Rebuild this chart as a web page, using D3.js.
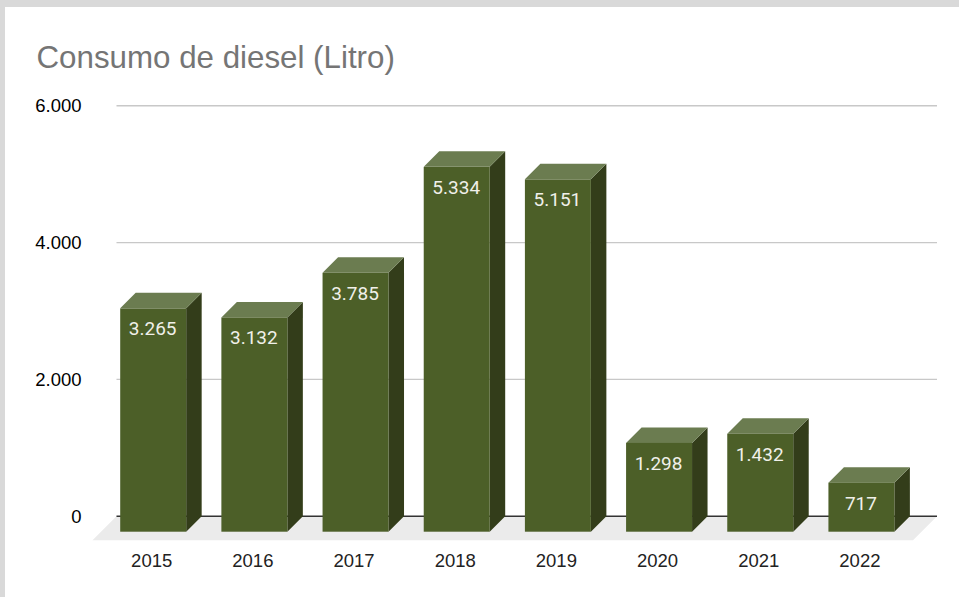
<!DOCTYPE html>
<html>
<head>
<meta charset="utf-8">
<script src="https://d3js.org/d3.v7.min.js"></script>
<style>
  html, body { margin: 0; padding: 0; background: #fff; }
  svg { display: block; }
</style>
</head>
<body>
<div id="chart"></div>
<script>
var years = ["2015", "2016", "2017", "2018", "2019", "2020", "2021", "2022"];
var consumo = [3265, 3132, 3785, 5334, 5151, 1298, 1432, 717];
var yTicks = [0, 2000, 4000, 6000];

var width = 959, height = 597;
// 3d offset of the front face against the back plane
var depthX = 15.5, depthY = 15.5;

var svg = d3.select("#chart").append("svg")
  .attr("width", width)
  .attr("height", height);

// grey page behind the white card
svg.append("rect").attr("width", width).attr("height", height).attr("fill", "#d9d9d9");
svg.append("rect").attr("x", 5).attr("y", 7).attr("width", width - 5).attr("height", height - 7).attr("fill", "#fff");

svg.append("text")
  .attr("x", 36.5).attr("y", 68)
  .attr("font-family", "Liberation Sans")
  .attr("font-size", 31.3)
  .attr("fill", "#757575")
  .text("Consumo de diesel (Litro)");

var x = d3.scaleBand()
  .domain(years)
  .range([102.6, 912])
  .paddingInner(0.348)
  .paddingOuter(0.174);

// y is the back plane, where the gridlines sit
var y = d3.scaleLinear()
  .domain([0, 6000])
  .range([516.2, 105.8]);

var fmt = d3.formatLocale({decimal: ",", thousands: ".", grouping: [3], currency: ["", ""]}).format(",d");

// floor
var floorLeft = 116.5, floorRight = 937;
svg.append("path")
  .attr("d", d3.line()([
    [floorLeft, y(0)], [floorRight, y(0)],
    [floorRight - 24, y(0) + 24], [floorLeft - 24, y(0) + 24]
  ]))
  .attr("fill", "#ebebeb");

// gridlines + axis line
svg.append("g").selectAll("line")
  .data(yTicks)
  .join("line")
    .attr("x1", floorLeft).attr("x2", floorRight)
    .attr("y1", function(d) { return y(d); })
    .attr("y2", function(d) { return y(d); })
    .attr("stroke", function(d) { return d === 0 ? "#333333" : "#c8c8c8"; })
    .attr("stroke-width", 1.4);

svg.append("g").selectAll("text")
  .data(yTicks)
  .join("text")
    .attr("x", 81.5)
    .attr("y", function(d) { return y(d) + 6.5; })
    .attr("text-anchor", "end")
    .attr("font-family", "Liberation Sans")
    .attr("font-size", 18.5)
    .attr("fill", "#000")
    .text(function(d) { return fmt(d); });

var data = years.map(function(yr, i) { return {year: yr, value: consumo[i]}; });

var bars = svg.append("g").selectAll("g")
  .data(data)
  .join("g");

// side face
bars.append("path")
  .attr("fill", "#333d1a")
  .attr("d", function(d) {
    var r = x(d.year) + x.bandwidth(), top = y(d.value) + depthY, bot = y(0) + depthY;
    return d3.line()([[r, top], [r + depthX, top - depthY], [r + depthX, bot - depthY], [r, bot]]);
  });

// top face
bars.append("path")
  .attr("fill", "#6b7c50")
  .attr("d", function(d) {
    var l = x(d.year), r = l + x.bandwidth(), top = y(d.value) + depthY;
    return d3.line()([[l, top], [l + depthX, top - depthY], [r + depthX, top - depthY], [r, top]]);
  });

// front face
bars.append("rect")
  .attr("fill", "#4c5f28")
  .attr("x", function(d) { return x(d.year); })
  .attr("y", function(d) { return y(d.value) + depthY; })
  .attr("width", x.bandwidth())
  .attr("height", function(d) { return y(0) - y(d.value); });

bars.append("text")
  .attr("x", function(d) { return x(d.year) + x.bandwidth() / 2 - 0.5; })
  .attr("y", function(d) { return y(d.value) + depthY + 27; })
  .attr("text-anchor", "middle")
  .attr("font-family", "Roboto")
  .attr("font-size", 19)
  .attr("fill", "#f0f0ea")
  .text(function(d) { return fmt(d.value); });

// x labels
svg.append("g").selectAll("text")
  .data(years)
  .join("text")
    .attr("x", function(d) { return x(d) + x.bandwidth() / 2 - 1.5; })
    .attr("y", 567)
    .attr("text-anchor", "middle")
    .attr("font-family", "Liberation Sans")
    .attr("font-size", 18.5)
    .attr("fill", "#222")
    .text(function(d) { return d; });
</script>
</body>
</html>
